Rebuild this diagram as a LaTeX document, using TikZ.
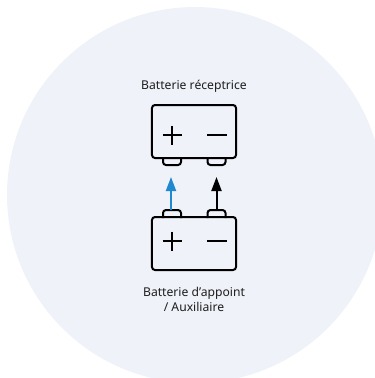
\documentclass[tikz,border=0pt]{standalone}
\usepackage{fontspec}
\setmainfont{Noto Sans}
\usetikzlibrary{arrows.meta}
\definecolor{bgcirc}{HTML}{EFF2F9}
\definecolor{txt}{HTML}{1E1E1E}
\definecolor{arrblue}{HTML}{1E88D0}
\tikzset{
  battbox/.style={draw=black, line width=2bp, rounded corners=3bp, minimum width=84bp, minimum height=53bp, inner sep=0pt},
  stroke/.style={draw=black, line width=2bp},
  term/.style={draw=black, line width=2bp, rounded corners=3bp},
  lbl/.style={text=txt, font=\fontsize{12.2}{15.5}\selectfont, align=center, inner sep=0pt},
  flow/.style={line width=2bp, -{Triangle[width=10bp,length=14bp]}, shorten >=0pt}
}
\begin{document}
\begin{tikzpicture}[x=1bp,y=-1bp]
\useasboundingbox (0,0) rectangle (375,378);
\clip (0,0) rectangle (375,378);
\fill[bgcirc] (195,195) circle[radius=188];
% labels
\node[lbl] (ltop) at (194,86) {Batterie réceptrice};
\node[lbl] (lbot) at (194,299.5) {Batterie d’appoint\\/ Auxiliaire};
% top battery
\node[battbox] (rec) at (194,131.5) {};
\draw[term] (163,157) -- (163,165) -- (181,165) -- (181,157);
\draw[term] (207.5,157) -- (207.5,165) -- (225.5,165) -- (225.5,157);
\draw[stroke] (162.5,135) -- (181.5,135) (172,125.5) -- (172,144.5);
\draw[stroke] (207,135) -- (227,135);
\coordinate (recpos) at (171,166);
\coordinate (recneg) at (216.5,166);
% bottom battery
\node[battbox] (aux) at (194,243.5) {};
\draw[term] (163,218) -- (163,210) -- (181,210) -- (181,218);
\draw[term] (207.5,218) -- (207.5,210) -- (225.5,210) -- (225.5,218);
\draw[stroke] (162.5,241) -- (181.5,241) (172,231.5) -- (172,250.5);
\draw[stroke] (207,241) -- (227,241);
\coordinate (auxpos) at (171,210);
\coordinate (auxneg) at (216.5,210);
% arrows
\draw[flow, draw=arrblue, fill=arrblue] (auxpos) -- ([yshift=-11bp]recpos);
\draw[flow, draw=black, fill=black] (auxneg) -- ([yshift=-11bp]recneg);
\end{tikzpicture}
\end{document}
